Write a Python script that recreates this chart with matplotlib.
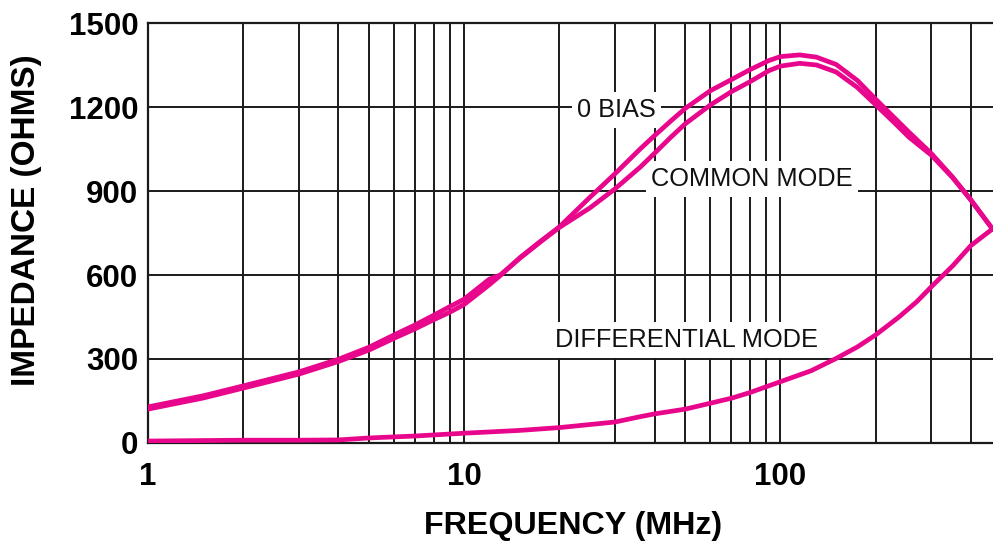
import matplotlib
matplotlib.use("Agg")
import matplotlib.pyplot as plt
from matplotlib.ticker import FixedLocator, NullFormatter, LogLocator

# ---- data ----
freq = [1, 1.5, 2, 3, 4, 5, 6, 7, 8, 9, 10, 12, 13, 15, 17.5, 20, 25, 30, 36,
        40, 45, 50, 60, 70, 80, 92, 100, 115, 130, 150, 175, 200, 230, 255,
        300, 350, 400, 470]
bias0 = [121, 161, 196, 246, 291, 332, 374, 408, 440, 467, 495, 565, 598, 662,
         722, 772, 878, 962, 1050, 1098, 1150, 1195, 1258, 1298, 1333, 1366,
         1380, 1386, 1378, 1352, 1295, 1228, 1160, 1110, 1034, 950, 868, 762]
common = [129, 169, 204, 254, 299, 342, 386, 422, 456, 487, 514, 585, 600, 660,
          720, 770, 840, 908, 985, 1035, 1092, 1140, 1207, 1255, 1290, 1330,
          1346, 1356, 1350, 1325, 1270, 1208, 1142, 1092, 1028, 948, 868, 762]
diff_freq = [1, 2, 3, 4, 5, 7, 10, 15, 20, 30, 36, 40, 50, 60, 70, 80, 100,
             125, 150, 175, 200, 237, 270, 300, 350, 400, 470]
diff = [7, 10, 10, 11, 18, 25, 35, 45, 55, 75, 94, 104, 121, 142, 160, 180,
        219, 258, 302, 343, 386, 450, 505, 558, 632, 705, 766]

y_ticks = [0, 300, 600, 900, 1200, 1500]
x_ticks = [1, 10, 100]
x_ticklabels = ["1", "10", "100"]

labels = ["0 BIAS", "COMMON MODE", "DIFFERENTIAL MODE"]
label_pos = [(30.3, 1189), (81.3, 943), (50.5, 368)]

# ---- style ----
plt.rcParams['font.family'] = ['Liberation Sans', 'DejaVu Sans']
pink = '#E8068C'

fig = plt.figure(figsize=(9.93, 5.42), dpi=100)
ax = fig.add_axes([148 / 993, 1 - 443 / 542, 1 - 148 / 993, (443 - 23) / 542])

ax.set_xscale('log')
ax.set_xlim(1, 470)
ax.set_ylim(0, 1500)

ax.xaxis.set_major_locator(FixedLocator(x_ticks))
ax.set_xticklabels(x_ticklabels)
ax.xaxis.set_minor_locator(LogLocator(base=10, subs=range(2, 10), numticks=20))
ax.xaxis.set_minor_formatter(NullFormatter())
ax.set_yticks(y_ticks)
ax.set_yticklabels([str(v) for v in y_ticks])

ax.tick_params(axis='both', which='both', length=0)
ax.tick_params(axis='x', pad=14, labelsize=22.5)
ax.tick_params(axis='y', pad=7, labelsize=22.5)
for lab in ax.get_xticklabels() + ax.get_yticklabels():
    lab.set_fontweight('bold')

ax.grid(True, which='major', axis='both', color='#1a1a1a', lw=1.4, zorder=1)
ax.grid(True, which='minor', axis='x', color='#1a1a1a', lw=1.4, zorder=1)
ax.set_axisbelow(True)

for s in ['left', 'bottom', 'top']:
    ax.spines[s].set_color('#1a1a1a')
    ax.spines[s].set_linewidth(1.6)
ax.spines['right'].set_visible(False)

for xs, ys in [(freq, bias0), (freq, common), (diff_freq, diff)]:
    ax.plot(xs, ys, color=pink, lw=3.4, zorder=4,
            solid_capstyle='round', solid_joinstyle='round')

for txt, (x, y) in zip(labels, label_pos):
    ax.text(x, y, txt, fontsize=18.3, ha='center', va='center', color='#111111',
            zorder=3, bbox=dict(facecolor='white', edgecolor='none', pad=4))

fig.text(573 / 993, 1 - 526 / 542, "FREQUENCY (MHz)", fontsize=23.2,
         fontweight='bold', ha='center', va='center')
fig.text(27 / 993, 1 - 220 / 542, "IMPEDANCE (OHMS)", fontsize=24,
         fontweight='bold', ha='center', va='center', rotation=90)

fig.savefig('out.png', dpi=100)
